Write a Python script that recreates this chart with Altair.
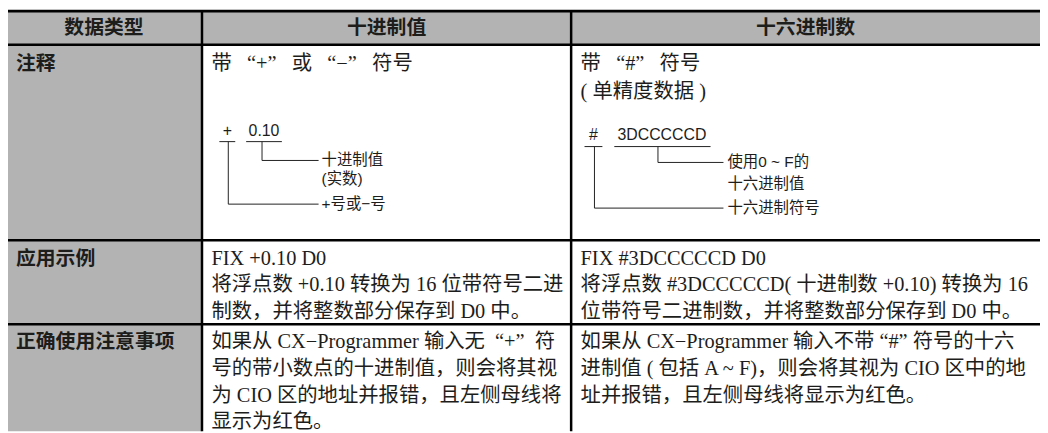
import altair as alt
import pandas as pd

# ---------------- content ----------------
header_labels = ["数据类型", "十进制值", "十六进制数"]
row_labels = ["注释", "应用示例", "正确使用注意事项"]

EN = "\u2002"  # en space, stands in for the full-width quote boxes
decimal_cells = [
    [f"带 {EN}“+”{EN} 或 {EN}“−”{EN} 符号"],
    ["FIX +0.10 D0",
     "将浮点数 +0.10 转换为 16 位带符号二进",
     "制数，并将整数部分保存到 D0 中。"],
    [f"如果从 CX−Programmer 输入无{EN}“+”{EN}符",
     "号的带小数点的十进制值，则会将其视",
     "为 CIO 区的地址并报错，且左侧母线将",
     "显示为红色。"],
]
hex_cells = [
    [f"带 {EN}“#”{EN} 符号", "( 单精度数据 )"],
    ["FIX #3DCCCCCD D0",
     "将浮点数 #3DCCCCCD( 十进制数 +0.10) 转换为 16",
     "位带符号二进制数，并将整数部分保存到 D0 中。"],
    ["如果从 CX−Programmer 输入不带 “#” 符号的十六",
     "进制值 ( 包括 A ~ F)，则会将其视为 CIO 区中的地",
     "址并报错，且左侧母线将显示为红色。"],
]

dec_symbols = ["+", "0.10"]
dec_callouts = [["十进制值", "(实数)"], ["+号或−号"]]
hex_symbols = ["#", "3DCCCCCD"]
hex_callouts = [["使用0 ~ F的", "十六进制值"], ["十六进制符号"]]

# ---------------- layout (pixel frame of the page) ----------------
W, H = 1048, 433
col_edges = [6, 203.5, 575.5, W]
row_edges = [9.5, 43.5, 240.5, 325, H]
header_y = 27
label_x = 16
cell_pad = 9.5
row_first_line = [63, 259, 343]
line_pitch = 27.0
row1_pitch = 28

GRAY = "#b3b3b3"
INK = "#1d1d1b"

SANS_CJK = "Noto Sans CJK SC"
BODY_FONT = "Liberation Serif, Noto Sans CJK SC"
DIAG_FONT = "Liberation Sans, Noto Sans CJK SC"

diagrams = [
    dict(symbols=dec_symbols, callouts=dec_callouts, sym_x=[229, 266], sym_y=130,
         ul=[(221, 237), (248, 284)], ul_y=141, lead_x=[264, 230],
         lead_end=321, text_x=324, callout_y=[[160, 179], [204]]),
    dict(symbols=hex_symbols, callouts=hex_callouts, sym_x=[598, 667], sym_y=134,
         ul=[(589, 607), (619, 716)], ul_y=146, lead_x=[663, 599],
         lead_end=729, text_x=733, callout_y=[[162, 184], [208]]),
]

# ---------------- tables ----------------
rects = pd.DataFrame([
    dict(x=col_edges[0], x2=W, y=row_edges[0], y2=row_edges[1], c=GRAY),
    dict(x=col_edges[0], x2=col_edges[1], y=row_edges[1], y2=H, c=GRAY),
])

rules = []
for i, yv in enumerate(row_edges[:-1]):
    rules.append(dict(x=col_edges[0], x2=W, y=yv, y2=yv, w=3 if i == 0 else 2.5, c="#000000"))
for xv in col_edges[1:3]:
    rules.append(dict(x=xv, x2=xv, y=row_edges[0], y2=H, w=2.5, c="#000000"))
for d in diagrams:
    for (a, b) in d["ul"]:
        rules.append(dict(x=a, x2=b, y=d["ul_y"], y2=d["ul_y"], w=1, c="#222222"))
    for k, lx in enumerate(d["lead_x"]):
        ly = d["callout_y"][k][0]
        rules.append(dict(x=lx, x2=lx, y=d["ul_y"], y2=ly, w=1, c="#222222"))
        rules.append(dict(x=lx, x2=d["lead_end"], y=ly, y2=ly, w=1, c="#222222"))
rules = pd.DataFrame(rules)

headers = pd.DataFrame(dict(
    x=[(col_edges[i] + col_edges[i + 1]) / 2 for i in range(3)],
    y=[header_y] * 3, t=header_labels))

labels = pd.DataFrame(dict(x=[label_x] * 3, y=row_first_line, t=row_labels))

body = []
for r in range(3):
    pitch = row1_pitch if r == 0 else line_pitch
    for col, cells in ((1, decimal_cells), (2, hex_cells)):
        for j, line in enumerate(cells[r]):
            body.append(dict(x=col_edges[col] + cell_pad, y=row_first_line[r] + j * pitch, t=line))
body = pd.DataFrame(body)

sym_rows, call_rows = [], []
for d in diagrams:
    for s, sx in zip(d["symbols"], d["sym_x"]):
        sym_rows.append(dict(x=sx, y=d["sym_y"], t=s))
    for lines, ys in zip(d["callouts"], d["callout_y"]):
        for line, yv in zip(lines, ys):
            call_rows.append(dict(x=d["text_x"], y=yv, t=line))
syms = pd.DataFrame(sym_rows)
calls = pd.DataFrame(call_rows)

# ---------------- chart ----------------
PLOT_W, PLOT_H = W - 8, H - 8
xs = alt.Scale(domain=[8, W], range=[0, PLOT_W])
ys = alt.Scale(domain=[8, 8 + PLOT_H], range=[0, PLOT_H])
X = lambda f="x": alt.X(f"{f}:Q", scale=xs, axis=None)
Y = lambda f="y": alt.Y(f"{f}:Q", scale=ys, axis=None)

rect_layer = alt.Chart(rects).mark_rect().encode(
    x=X(), x2="x2:Q", y=Y(), y2="y2:Q", color=alt.Color("c:N", scale=None))

rule_layer = alt.Chart(rules).mark_rule().encode(
    x=X(), x2="x2:Q", y=Y(), y2="y2:Q",
    color=alt.Color("c:N", scale=None),
    strokeWidth=alt.StrokeWidth("w:Q", scale=None))


def text_layer(df, font, size, weight="normal", align="left"):
    return alt.Chart(df).mark_text(
        font=font, fontSize=size, fontWeight=weight, align=align,
        baseline="middle", color=INK
    ).encode(x=X(), y=Y(), text="t:N")


chart = alt.layer(
    rect_layer,
    rule_layer,
    text_layer(headers, SANS_CJK, 20, "bold", "center"),
    text_layer(labels, SANS_CJK, 20, "bold"),
    text_layer(body, BODY_FONT, 20.5),
    text_layer(syms, DIAG_FONT, 16, align="center"),
    text_layer(calls, DIAG_FONT, 15.5),
).properties(
    width=PLOT_W, height=PLOT_H, padding=0,
    autosize=alt.AutoSizeParams(type="none"),
    background="white",
).configure_view(stroke=None)

chart.save("out.html", embed_options={"renderer": "svg", "actions": False})
